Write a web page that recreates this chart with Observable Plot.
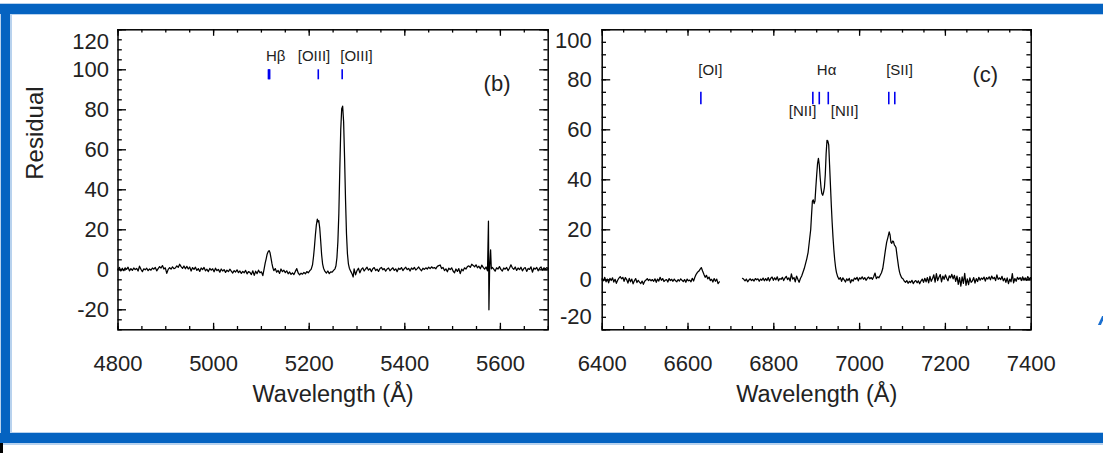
<!DOCTYPE html>
<html><head><meta charset="utf-8">
<script src="https://cdn.jsdelivr.net/npm/d3@7"></script>
<script src="https://cdn.jsdelivr.net/npm/@observablehq/plot@0.6"></script>
<style>
html,body{margin:0;padding:0;background:#fff;}
#wrap{position:relative;width:1103px;height:453px;overflow:hidden;background:#fff;font-family:"Liberation Sans",Arial,Helvetica,sans-serif;}
.panel{position:absolute;top:0;}
.bar{position:absolute;background:#0563c1;z-index:5;}
.edge{position:absolute;background:#b8d2ee;z-index:4;}
</style></head><body><div id="wrap"></div>
<script>
// ---------- DATA ----------
// Panel (b): residual spectrum, wavelength (Å) / residual
const specB = [
[4800,0.3],[4803,1.2],[4806,-0.6],[4809,0.8],[4812,-0.4],[4815,1.0],[4818,0.2],[4821,1.3],[4824,-0.5],[4827,0.6],
[4830,-0.3],[4833,0.9],[4836,0.1],[4839,0.7],[4842,-0.6],[4845,1.8],[4848,0.3],[4851,-0.9],[4854,0.5],[4857,0.0],
[4860,0.8],[4863,-0.4],[4866,0.4],[4869,-0.2],[4872,0.9],[4875,0.3],[4878,1.2],[4881,-0.5],[4884,0.6],[4887,1.6],
[4890,0.9],[4893,2.1],[4896,0.4],[4899,1.0],[4902,-1.8],[4905,0.2],[4908,1.1],[4911,0.3],[4914,1.5],[4917,0.6],
[4920,0.9],[4923,2.0],[4926,1.2],[4929,2.8],[4932,1.6],[4935,0.7],[4938,1.9],[4941,0.5],[4944,1.7],[4947,0.4],
[4950,1.4],[4953,-0.6],[4956,1.1],[4959,0.2],[4962,1.3],[4965,-0.3],[4968,0.6],[4971,-0.8],[4974,0.9],[4977,0.1],
[4980,1.2],[4983,-0.5],[4986,0.3],[4989,-0.9],[4992,0.7],[4995,-0.2],[4998,0.5],[5001,-1.0],[5004,0.8],[5007,-0.4],
[5010,0.2],[5013,-1.2],[5016,0.4],[5019,-0.6],[5022,0.1],[5025,-1.3],[5028,-0.2],[5031,-0.9],[5034,0.3],[5037,-0.7],
[5040,-1.6],[5043,-0.4],[5046,-1.1],[5049,0.0],[5052,-1.4],[5055,-0.6],[5058,-1.8],[5061,-0.8],[5064,-1.5],[5067,-0.3],
[5070,-2.0],[5073,-0.9],[5076,-1.3],[5079,-2.4],[5082,-0.5],[5085,-2.8],[5088,-0.7],[5091,-1.9],[5094,-0.2],[5097,-1.5],
[5100,-1.0],[5103,-2.9],[5106,0.8],[5108,3.5],[5110,5.5],[5112,7.8],[5114,9.0],[5116,9.6],[5118,8.6],[5120,6.0],
[5122,3.2],[5124,1.0],[5126,-0.4],[5129,0.6],[5132,-1.2],[5135,-0.3],[5138,-1.8],[5141,0.4],[5144,-0.9],[5147,-0.2],
[5150,-1.4],[5153,-0.5],[5156,-2.0],[5159,-1.1],[5162,-2.3],[5165,-1.5],[5168,-2.4],[5171,-0.8],[5174,0.6],[5177,-1.6],
[5180,-2.5],[5183,-1.7],[5186,-2.2],[5189,-1.3],[5192,-2.0],[5195,-0.9],[5198,-1.5],[5201,-0.5],[5204,0.2],[5207,2.5],
[5209,6.5],[5211,11.5],[5213,17.5],[5215,22.5],[5217,25.3],[5218.5,24.0],[5220,24.6],[5222,21.0],[5224,14.5],[5226,7.5],
[5228,3.0],[5230,0.8],[5233,-0.8],[5236,-1.6],[5239,-0.6],[5242,-1.9],[5245,-1.0],[5248,-1.2],[5251,-0.3],[5254,0.5],
[5256,2.0],[5258,6.0],[5260,14.0],[5262,28.0],[5264,50.0],[5266,70.0],[5268,80.5],[5270,81.8],[5272,74.0],[5274,56.0],
[5276,35.0],[5278,18.0],[5280,8.0],[5282,3.0],[5284,0.8],[5287,-0.8],[5290,-2.2],[5292,-3.6],[5294,0.5],[5297,-2.5],
[5300,-0.4],[5303,0.8],[5306,-1.5],[5309,0.2],[5312,1.0],[5315,-0.6],[5318,0.4],[5321,1.3],[5324,-0.2],[5327,0.6],
[5330,-0.9],[5333,0.5],[5336,1.1],[5339,-0.4],[5342,0.3],[5345,-0.8],[5348,0.7],[5351,1.2],[5354,0.0],[5357,0.6],
[5360,-0.7],[5363,0.4],[5366,0.9],[5369,-0.5],[5372,0.3],[5375,1.0],[5378,-0.3],[5381,0.5],[5384,-0.9],[5387,0.8],
[5390,0.2],[5393,1.1],[5396,-0.4],[5399,0.6],[5402,1.3],[5405,0.1],[5408,0.7],[5411,-0.6],[5414,0.9],[5417,0.2],
[5420,1.2],[5423,-0.1],[5426,0.6],[5429,1.4],[5432,0.3],[5435,-0.5],[5438,0.8],[5441,0.2],[5444,1.0],[5447,0.4],
[5450,1.3],[5453,0.6],[5456,1.5],[5459,0.8],[5462,1.1],[5465,0.5],[5468,1.7],[5471,2.1],[5474,2.4],[5477,0.6],
[5480,1.2],[5483,-0.4],[5486,0.5],[5489,-1.0],[5492,0.8],[5495,0.1],[5498,1.0],[5501,-0.6],[5504,-1.5],[5507,0.4],
[5510,-0.8],[5513,0.6],[5516,-1.9],[5519,0.3],[5522,-0.5],[5525,1.0],[5528,0.4],[5531,1.6],[5534,2.0],[5537,1.2],
[5540,2.8],[5543,2.2],[5546,1.5],[5549,2.5],[5552,1.0],[5555,1.8],[5558,0.5],[5561,2.3],[5564,1.2],[5567,0.3],
[5570,1.4],[5573,-0.5],[5575,24.3],[5576,-20.0],[5577.5,1.0],[5579.5,10.0],[5581,0.5],[5583,1.2],[5586,0.3],[5589,-0.7],
[5592,1.0],[5595,0.4],[5598,1.6],[5601,0.2],[5604,-0.6],[5607,0.9],[5610,0.3],[5613,1.2],[5616,-0.4],[5619,0.8],
[5622,2.5],[5625,1.0],[5628,0.2],[5631,1.4],[5634,-0.3],[5637,0.9],[5640,0.1],[5643,1.3],[5646,-0.5],[5649,0.6],
[5652,1.1],[5655,-0.8],[5658,0.7],[5661,0.2],[5664,1.5],[5667,-1.2],[5670,0.9],[5673,0.3],[5676,1.2],[5679,-0.5],
[5682,0.8],[5685,1.4],[5688,-0.2],[5691,1.0],[5694,0.4],[5697,1.1],[5700,0.5]
];
// Panel (c): residual spectrum (null = gap in the spectrum)
const specC = [
[6400,0.5],[6403,-0.4],[6406,1.0],[6409,-0.8],[6412,0.3],[6415,-1.2],[6418,0.6],[6421,-0.3],[6424,0.8],[6427,-0.9],
[6430,0.2],[6433,-1.4],[6436,-0.2],[6439,0.7],[6442,1.3],[6445,0.4],[6448,1.0],[6451,-0.6],[6454,0.9],[6457,0.1],
[6460,-1.3],[6463,0.6],[6466,-0.8],[6469,0.3],[6472,-1.6],[6475,-0.4],[6478,0.5],[6481,-1.1],[6484,-0.2],[6487,-0.9],
[6490,-1.5],[6493,-0.5],[6496,-1.8],[6499,-0.6],[6502,-0.1],[6505,0.5],[6508,-0.3],[6511,0.2],[6514,-0.4],[6517,0.1],
[6520,-0.6],[6523,0.4],[6526,-1.0],[6529,0.3],[6532,-0.5],[6535,1.0],[6538,-0.2],[6541,0.5],[6544,-0.7],[6547,-0.1],
[6550,0.1],[6553,-0.9],[6556,0.5],[6559,-0.3],[6562,0.2],[6565,-0.6],[6568,0.3],[6571,-0.4],[6574,-0.8],[6577,0.1],
[6580,-0.5],[6583,0.4],[6586,-0.2],[6589,-0.7],[6592,0.1],[6595,-1.0],[6598,0.3],[6601,-0.4],[6604,-0.1],[6607,-0.8],
[6610,0.6],[6613,-0.5],[6616,1.0],[6619,2.2],[6622,3.0],[6625,3.4],[6628,4.2],[6631,4.9],[6634,3.5],[6637,2.2],
[6640,1.0],[6643,1.8],[6646,0.4],[6649,1.1],[6652,-0.3],[6655,0.2],[6658,-0.9],[6661,0.5],[6664,-0.6],[6667,0.3],
[6670,-1.5],[6673,-0.8],[6700,null],
[6727,0.6],[6730,0.2],[6733,-0.4],[6736,0.3],[6739,-0.8],[6742,-0.1],[6745,0.4],[6748,-0.3],[6751,0.2],[6754,-0.5],
[6757,0.5],[6760,0.0],[6763,0.4],[6766,-0.6],[6769,0.3],[6772,-0.2],[6775,0.7],[6778,-0.4],[6781,0.5],[6784,-0.3],
[6787,0.9],[6790,-0.5],[6793,0.6],[6796,1.1],[6799,-0.2],[6802,0.8],[6805,0.0],[6808,1.2],[6811,-0.4],[6814,0.5],
[6817,0.2],[6820,1.0],[6823,-0.3],[6826,0.7],[6829,1.4],[6832,0.1],[6835,0.8],[6838,-0.5],[6841,2.4],[6844,0.3],
[6847,0.9],[6850,-0.8],[6853,1.5],[6856,0.2],[6859,-1.0],[6862,0.5],[6865,1.5],[6868,3.0],[6871,4.5],[6874,6.5],
[6877,8.5],[6880,11.0],[6883,15.5],[6886,20.0],[6888,26.0],[6890,31.5],[6892,32.0],[6894,30.5],[6896,31.5],[6898,37.0],
[6900,42.0],[6902,46.5],[6904,48.6],[6906,46.0],[6908,41.0],[6910,37.0],[6912,34.5],[6914,33.8],[6916,35.0],[6918,37.0],
[6920,42.0],[6922,50.5],[6924,55.8],[6926,55.5],[6928,54.0],[6930,46.0],[6932,38.0],[6934,30.0],[6936,23.0],[6938,17.0],
[6940,12.0],[6942,8.0],[6944,5.0],[6946,3.0],[6949,1.2],[6952,0.2],[6955,0.9],[6958,-0.6],[6961,0.8],[6964,0.0],
[6967,-0.9],[6970,0.4],[6973,-0.3],[6976,0.6],[6979,-1.2],[6982,0.1],[6985,-0.5],[6988,0.7],[6991,0.2],[6994,1.0],
[6997,-0.4],[7000,0.8],[7003,0.3],[7006,1.2],[7009,0.2],[7012,0.9],[7015,-0.2],[7018,0.6],[7021,1.1],[7024,0.4],
[7027,0.9],[7030,0.2],[7033,1.3],[7036,2.7],[7039,0.5],[7042,1.2],[7045,0.8],[7048,1.8],[7051,2.8],[7054,4.5],
[7057,8.0],[7060,11.7],[7063,15.0],[7066,17.0],[7069,19.2],[7071,18.0],[7073,15.0],[7075,14.6],[7077,15.5],[7079,15.3],
[7081,14.0],[7083,13.5],[7085,12.8],[7087,10.0],[7089,7.5],[7091,5.0],[7093,3.2],[7095,2.0],[7098,0.8],[7101,0.4],
[7104,-0.5],[7107,-1.0],[7110,-0.3],[7113,-1.4],[7116,-0.6],[7119,-1.1],[7122,-0.2],[7125,-1.5],[7128,-0.7],[7131,-0.3],
[7134,-1.2],[7137,-0.4],[7140,-1.6],[7143,-0.5],[7146,0.3],[7149,-1.0],[7152,0.6],[7155,-0.8],[7158,0.9],[7161,-1.2],
[7164,1.4],[7167,-0.6],[7170,0.5],[7173,2.0],[7176,-0.9],[7179,2.5],[7182,-0.3],[7185,1.0],[7188,2.1],[7191,-0.8],
[7194,1.5],[7197,0.2],[7200,2.0],[7203,0.6],[7206,-0.4],[7209,1.6],[7212,0.8],[7215,2.2],[7218,0.4],[7221,1.8],
[7224,-0.6],[7227,1.5],[7230,-1.8],[7233,0.9],[7236,-2.5],[7239,1.2],[7242,-1.4],[7245,2.6],[7248,-2.2],[7251,0.4],
[7254,-1.9],[7257,0.8],[7260,-1.0],[7263,-0.4],[7266,0.9],[7269,-1.3],[7272,0.5],[7275,-0.7],[7278,1.0],[7281,-0.2],
[7284,0.7],[7287,0.2],[7290,1.1],[7293,-0.5],[7296,0.9],[7299,0.3],[7302,1.2],[7305,0.0],[7308,1.5],[7311,0.4],
[7314,1.0],[7317,-0.3],[7320,2.0],[7323,0.2],[7326,0.8],[7329,0.1],[7332,1.4],[7335,-0.4],[7338,0.6],[7341,-1.0],
[7344,0.8],[7347,-1.5],[7350,0.3],[7353,-0.8],[7356,2.5],[7359,-1.2],[7362,0.5],[7365,-0.6],[7368,1.0],[7371,0.2],
[7374,0.9],[7377,-0.3],[7380,1.2],[7383,0.0],[7386,0.8],[7389,-0.2],[7392,1.3],[7395,0.3],[7398,0.9],[7400,0.4]
];
// emission-line markers (observed wavelengths, Å); the first of panel (b) is Hβ
const markB = [5116, 5219, 5269];
const markC = [6630, 6891, 6906, 6927, 7068, 7082];
// line labels: [text, wavelength, residual]
const labelsB = [["Hβ",5130,107],["[OIII]",5210,107],["[OIII]",5299,107]];
const labelsC = [["[OI]",6652,83.7],["Hα",6923,83.7],["[SII]",7093,83.7],["[NII]",6867,67.3],["[NII]",6965,67.3]];
const tagB = [["(b)",5593,93]];
const tagC = [["(c)",7293,82]];
// axes
const xDomainB = [4800, 5700], yDomainB = [-30, 120];
const xDomainC = [6400, 7400], yDomainC = [-20, 100];
const xTicksB = [4800, 5000, 5200, 5400, 5600];
const yTicksB = [-20, 0, 20, 40, 60, 80, 100, 120];
const xTicksC = [6400, 6600, 6800, 7000, 7200, 7400];
const yTicksC = [-20, 0, 20, 40, 60, 80, 100];
const xTitle = "Wavelength (Å)";
const yTitle = "Residual";

// ---------- DRAW ----------
const FONT = '"Liberation Sans", Arial, Helvetica, sans-serif';
const H = 453, MT = 29.3, MB = 123.7;
const TXT = "#222";

function panel(o) {
  const fw = o.width - o.ml - o.mr, fh = H - MT - MB;
  const k = {stroke: "#000", strokeWidth: 1.3};
  const xMinor = d3.range(o.xDomain[0], o.xDomain[1] + 1, 50);
  const yMinor = d3.range(o.yDomain[0], o.yDomain[1] + 1, 5);
  const marks = [
    Plot.ruleX(xMinor, {...k, insetTop: fh - 3.3}),
    Plot.ruleX(xMinor, {...k, insetBottom: fh - 3.3}),
    Plot.ruleX(o.xTicks, {...k, insetTop: fh - 6.5}),
    Plot.ruleX(o.xTicks, {...k, insetBottom: fh - 6.5}),
    Plot.ruleY(yMinor, {...k, insetRight: fw - 4.3}),
    Plot.ruleY(yMinor, {...k, insetLeft: fw - 4.3}),
    Plot.ruleY(o.yTicks, {...k, insetRight: fw - 8.5}),
    Plot.ruleY(o.yTicks, {...k, insetLeft: fw - 8.5}),
    Plot.axisX(o.xTicks, {tickSize: 0, tickPadding: 26, label: null, tickFormat: d => String(d), fill: TXT}),
    Plot.axisY(o.yTicks.filter(v => !o.yEdge.some(e => e[0] === v)), {tickSize: 0, tickPadding: o.yPad, label: null, tickFormat: d => String(d), fill: TXT}),
    ...o.yEdge.map(([v, shift]) => Plot.text([v], {y: d => d, text: d => String(d), frameAnchor: "left", textAnchor: "end", dx: -o.yPad, dy: shift, fill: TXT})),
    Plot.text([xTitle], {frameAnchor: "bottom", dy: 72, fontSize: 23.5, fill: TXT}),
    Plot.ruleX(o.mark, {x: d => d, y1: o.markY[0], y2: o.markY[1], stroke: "#0000f0", strokeWidth: 1.6}),
    Plot.ruleX(o.mark.slice(0, o.thick), {x: d => d, y1: o.markY[0], y2: o.markY[1], stroke: "#0000f0", strokeWidth: 2.8}),
    Plot.text(o.labels, {x: d => d[1], y: d => d[2], text: d => d[0], fontSize: 15, fill: TXT}),
    Plot.text(o.tag, {x: d => d[1], y: d => d[2], text: d => d[0], fill: TXT}),
    Plot.line(o.spec, {x: d => d[0], y: d => d[1], stroke: "#000", strokeWidth: 1.25}),
    Plot.frame({stroke: "#000", strokeWidth: 1.5}),
    ...(o.extra || [])
  ];
  const svg = Plot.plot({
    width: o.width, height: H,
    marginLeft: o.ml, marginRight: o.mr, marginTop: MT, marginBottom: MB,
    x: {domain: o.xDomain}, y: {domain: o.yDomain},
    style: {background: "transparent", fontFamily: FONT, fontSize: "22px", color: TXT, overflow: "visible"},
    marks
  });
  svg.classList.add("panel");
  svg.style.left = o.left + "px";
  return svg;
}

const wrap = document.getElementById("wrap");
wrap.appendChild(panel({
  left: 0, width: 552, ml: 117.5, mr: 4.3, yPad: 9,
  xDomain: xDomainB, yDomain: yDomainB, xTicks: xTicksB, yTicks: yTicksB,
  yEdge: [[120, 12.4]], spec: specB, mark: markB, thick: 1, markY: [95, 100],
  labels: labelsB, tag: tagB,
  extra: [Plot.text([yTitle], {frameAnchor: "left", dx: -83, rotate: -90, fontSize: 24, fill: TXT})]
}));
wrap.appendChild(panel({
  left: 552, width: 551, ml: 49.7, mr: 72.3, yPad: 10.5,
  xDomain: xDomainC, yDomain: yDomainC, xTicks: xTicksC, yTicks: yTicksC,
  yEdge: [[100, 11.4], [-20, -12.6]], spec: specC, mark: markC, thick: 0, markY: [70, 75],
  labels: labelsC, tag: tagC
}));

// blue slide frame (decoration)
function box(cls, l, t, w, h, bg, extra) {
  const d = document.createElement("div");
  d.className = cls;
  Object.assign(d.style, {left: l + "px", top: t + "px", width: w + "px", height: h + "px"}, extra || {});
  if (bg) d.style.background = bg;
  wrap.appendChild(d);
}
box("edge", 0, 3, 1103, 12);
box("edge", 0, 431.5, 1103, 13);
box("edge", 0, 3, 12, 441);
box("bar", 0, 4, 1103, 9.5);
box("bar", 0, 433, 1103, 10.3);
box("bar", 1, 4, 9, 439);
box("bar", 0, 443.3, 2.5, 10, "#000");
// small blue fragment at the right edge (cut-off glyph of the slide)
box("bar", 1100, 316, 3, 9, "#1a6fd0", {transform: "skewX(-25deg)"});
</script></body></html>
